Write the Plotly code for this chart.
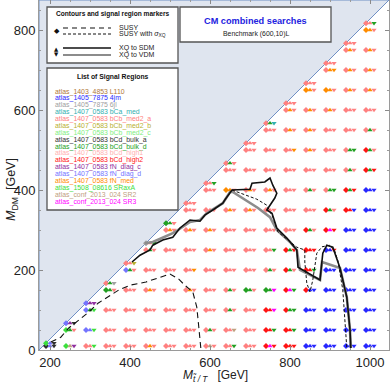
import plotly.graph_objects as go

# ---------------- data ----------------
mt_columns = [200, 250, 300, 350, 400, 450, 500, 550, 600, 650, 700, 750, 800, 850, 900, 950, 1000]
diag_mdm = [17, 67, 117, 167, 217, 267, 317, 367, 417, 467, 517, 567, 617, 667, 717, 767, 817]

# best signal region per grid point: (diamond=SUSY, up=XQ->SDM, down=XQ->VDM)
# each row lists the columns from the right end of mt_columns
row_codes = {
    10: "KVK ATU SSA SSS SSS SOS SSS SSS STS SSD SSS RMR RRR JJJ JJJ JJJ JJJ",
    50: "ADS VVA SSS SSS SSS SSS SSS SDS SST SSS RRD RRD JJJ JJJ JJJ JJJ",
    100: "VDA SSS SSS SSS SSS SSS SSS SDS SSS RRM RDD JJJ JJJ JJJ JJJ",
    150: "DDS SSS SOS SSS SOS SSS SDS DDS DDM RMD RJJ JJJ JJJ JJJ",
    200: "VDS SSS SSS SSO SSS SSS SSS SDS RDS RRD JJJ JJJ JJJ",
    250: "SDS SSS SSS SOS SSS SSS SSD RDR RRR JJR JJJ JJJ",
    300: "SOS SOS SOS SSS SSS SSS SSS RDS RMR JJJ JJJ",
    350: "SSS SSS SOS SOS SSS SSS SSS RDS RRJ JJJ",
    400: "SSS OOS SOS SOS SSS SDS SDD RDR JJJ",
    450: "SSS SSS SSS SSS SSS SSS SDS RDR",
    500: "SSS SSS SSO SOS SSS SDD RDS",
    550: "SSS SOS SOS SSS SSS SDS",
    600: "SOS SOS SOS SSS SSS",
    650: "OOS OOS SOS SOS",
    700: "SOO SOS SOS",
    750: "SOS SOS",
    800: "OOS",
}
diag_codes = "AVK VUK VUU SDG SSY GSD DDS SSS SSD SDS SSS SDC SSS SSS SSS SSS SSD"

region_names = [
    "atlas_1403_4853 L110", "atlas_1405_7875 4jm", "atlas_1405_7875 6jl",
    "atlas_1407_0583 bCa_med", "atlas_1407_0583 bCb_med2_a", "atlas_1407_0583 bCb_med2_b",
    "atlas_1407_0583 bCb_med2_c", "atlas_1407_0583 bCd_bulk_a", "atlas_1407_0583 bCd_bulk_d",
    "atlas_1407_0583 bCd_high1", "atlas_1407_0583 bCd_high2", "atlas_1407_0583 fN_diag_c",
    "atlas_1407_0583 fN_diag_d", "atlas_1407_0583 fN_med", "atlas_1508_08616 SRaxA",
    "atlas_conf_2013_024 SR2", "atlas_conf_2013_024 SR3",
]
region_codes = ["L", "J", "G", "C", "S", "Y", "E", "K", "D", "P", "R", "U", "V", "O", "A", "T", "M"]
region_colors = ["#B07838", "#2828FF", "#A0A0A0", "#30B0B0", "#FF8080", "#B8B030",
                 "#80EE80", "#303030", "#22A022", "#FFB0B0", "#FF1414", "#9030A0",
                 "#7474FF", "#FF8C00", "#3CE03C", "#C0A080", "#FF00FF"]

# contours (M_T, M_DM) in GeV
susy_x = [202, 227, 247, 272, 297, 320, 345, 372, 400, 440, 470, 500, 522, 537, 557, 567, 572, 577]
susy_y = [20, 32, 55, 75, 95, 117, 132, 150, 162, 170, 180, 190, 177, 162, 145, 107, 57, 5]
susy_sig_x = [655, 692, 717, 742, 757, 770, 817, 837, 837, 842, 850, 857, 862, 867, 880, 900, 912, 920, 932, 940, 942]
susy_sig_y = [400, 387, 377, 362, 332, 295, 257, 250, 220, 167, 145, 175, 207, 242, 258, 262, 247, 222, 150, 50, 5]
sdm_x = [405, 425, 450, 457, 482, 507, 525, 550, 575, 587, 607, 632, 637, 655, 700, 705, 737, 750, 757,
         767, 762, 745, 742, 755, 767, 792, 817, 820, 875, 882, 892, 907, 925, 942, 950, 952]
sdm_y = [220, 237, 250, 262, 275, 282, 305, 325, 322, 337, 350, 367, 375, 400, 402, 417, 420, 430, 412,
         392, 380, 357, 350, 342, 305, 280, 250, 207, 175, 242, 262, 257, 205, 132, 50, 5]
vdm_x = [437, 457, 480, 507, 520, 550, 575, 592, 632, 650, 657, 720, 750, 767, 800, 817, 825, 875, 880, 925, 942, 950, 952]
vdm_y = [267, 270, 280, 292, 300, 320, 325, 342, 367, 395, 395, 355, 332, 300, 270, 250, 200, 175, 220, 205, 132, 50, 5]

top_mass = 172.5
x_range = [172.5, 1047.5]
y_range = [0, 875]
x_ticks = [200, 400, 600, 800, 1000]
y_ticks = [0, 200, 400, 600, 800]

# ---------------- build ----------------
color_of = dict(zip(region_codes, region_colors))
pts = []  # (mt, mdm, codes)
for mdm, s in row_codes.items():
    trip = s.split()
    for mt, c in zip(mt_columns[-len(trip):], trip):
        pts.append((mt, mdm, c))
for mt, mdm, c in zip(mt_columns, diag_mdm, diag_codes.split()):
    pts.append((mt, mdm, c))

FONT = "Liberation Sans, Arial, sans-serif"
fig = go.Figure()

symbols = ["diamond", "triangle-up", "triangle-down"]
shifts = [-10, 0, 10]
sizes = [4.6, 4.6, 4.6]
for k in range(3):
    fig.add_trace(go.Scatter(
        x=[p[0] + shifts[k] for p in pts], y=[p[1] for p in pts], mode="markers",
        marker=dict(symbol=symbols[k], size=sizes[k], color=[color_of[p[2][k]] for p in pts],
                    line=dict(width=0)),
        hoverinfo="skip"))

fig.add_trace(go.Scatter(x=vdm_x, y=vdm_y, mode="lines", line=dict(color="#8C8C8C", width=2.6)))
fig.add_trace(go.Scatter(x=sdm_x, y=sdm_y, mode="lines", line=dict(color="#111111", width=1.6)))
fig.add_trace(go.Scatter(x=susy_x, y=susy_y, mode="lines", line=dict(color="#111111", width=1.1, dash="6px,4px")))
fig.add_trace(go.Scatter(x=susy_sig_x, y=susy_sig_y, mode="lines", line=dict(color="#111111", width=1.0, dash="3px,2px")))

shapes = []
# kinematically forbidden region above M_DM = M_T - m_top
shapes.append(dict(type="path", xref="x", yref="y", layer="below",
                   path=f"M {x_range[0]},{x_range[0]-top_mass} L {x_range[1]},{x_range[1]-top_mass} L {x_range[0]},{y_range[1]} Z",
                   fillcolor="#DFE5EF", line=dict(color="#6F8FC4", width=1)))

L, T, W, H = 39, 0, 350, 350
def px(x):
    return (x - L) / W
def py(y):
    return (T + H - y) / H

def box(x0, y0, x1, y1):
    shapes.append(dict(type="rect", xref="paper", yref="paper", layer="above",
                       x0=px(x0), x1=px(x1), y0=py(y1), y1=py(y0),
                       fillcolor="white", line=dict(color="#555555", width=1.3)))

box(47, 7, 178, 63)
box(47, 68, 178, 210)
box(180, 7, 331, 42)

def hline(x0, x1, y, color, width, dash="solid"):
    shapes.append(dict(type="line", xref="paper", yref="paper", layer="above",
                       x0=px(x0), x1=px(x1), y0=py(y), y1=py(y),
                       line=dict(color=color, width=width, dash=dash)))

hline(63, 111, 28, "#111111", 1.1, "5px,4px")
hline(63, 111, 34, "#111111", 1.0, "3px,2px")
hline(63, 111, 48, "#111111", 1.5)
hline(63, 111, 55, "#8C8C8C", 2.2)

ann = []
def text(x, y, s, size=7, color="#222222", xanchor="left", bold=False, family=FONT, angle=0):
    if bold:
        s = f"<b>{s}</b>"
    ann.append(dict(x=px(x), y=py(y), xref="paper", yref="paper", text=s, showarrow=False,
                    xanchor=xanchor, yanchor="middle", textangle=angle,
                    font=dict(size=size, color=color, family=family)))

text(112.5, 14, "Contours and signal region markers", size=6.6, xanchor="center", bold=True, color="#111")
text(117, 27, "SUSY")
text(117, 34.5, "SUSY with <i>σ</i><sub>XQ</sub>")
text(117, 48, "XQ to SDM")
text(117, 55, "XQ to VDM")
text(56.5, 31.5, "◆", size=7, xanchor="center", color="#111", family="DejaVu Sans")
text(56.5, 48.5, "▲", size=5.5, xanchor="center", color="#111", family="DejaVu Sans")
text(56.5, 54.5, "▼", size=5.5, xanchor="center", color="#111", family="DejaVu Sans")

text(112.5, 77, "List of Signal Regions", size=6.8, xanchor="center", bold=True, color="#111")
for i, (nm, col) in enumerate(zip(region_names, region_colors)):
    text(53, 91.5 + i * 6.88, nm, size=6.9, color=col)

text(255.5, 21, "CM combined searches", size=9.2, xanchor="center", bold=True, color="#2323E0")
text(255.5, 34.5, "Benchmark (600,10)L", size=6.9, xanchor="center", color="#222")

# axis titles
text(215, 375.5, "<i>M</i><sub><i>t̃ / T</i></sub>   [GeV]", size=12, xanchor="center", color="#222")
text(12, 190, "<i>M</i><sub>DM</sub>  [GeV]", size=12.5, xanchor="center", color="#222", angle=-90)

axis_common = dict(showgrid=False, zeroline=False, showline=True, linecolor="#9A9A9A", linewidth=1,
                   mirror="ticks", ticks="inside", ticklen=4, tickcolor="#8A8A8A", tickwidth=1,
                   tickfont=dict(size=13, color="#222222", family=FONT),
                   minor=dict(ticks="inside", ticklen=2, dtick=50, tick0=0, tickcolor="#9A9A9A", showgrid=False))

fig.update_layout(
    width=390, height=384, margin=dict(l=L, r=390 - L - W, t=T, b=384 - T - H),
    paper_bgcolor="white", plot_bgcolor="white", showlegend=False,
    xaxis=dict(range=x_range, tickvals=x_ticks, **axis_common),
    yaxis=dict(range=y_range, tickvals=y_ticks, **axis_common),
    shapes=shapes, annotations=ann,
)

fig.write_html("out.html", config={"displayModeBar": False},
               post_script="document.body.style.margin='0';document.body.style.overflow='hidden';")
